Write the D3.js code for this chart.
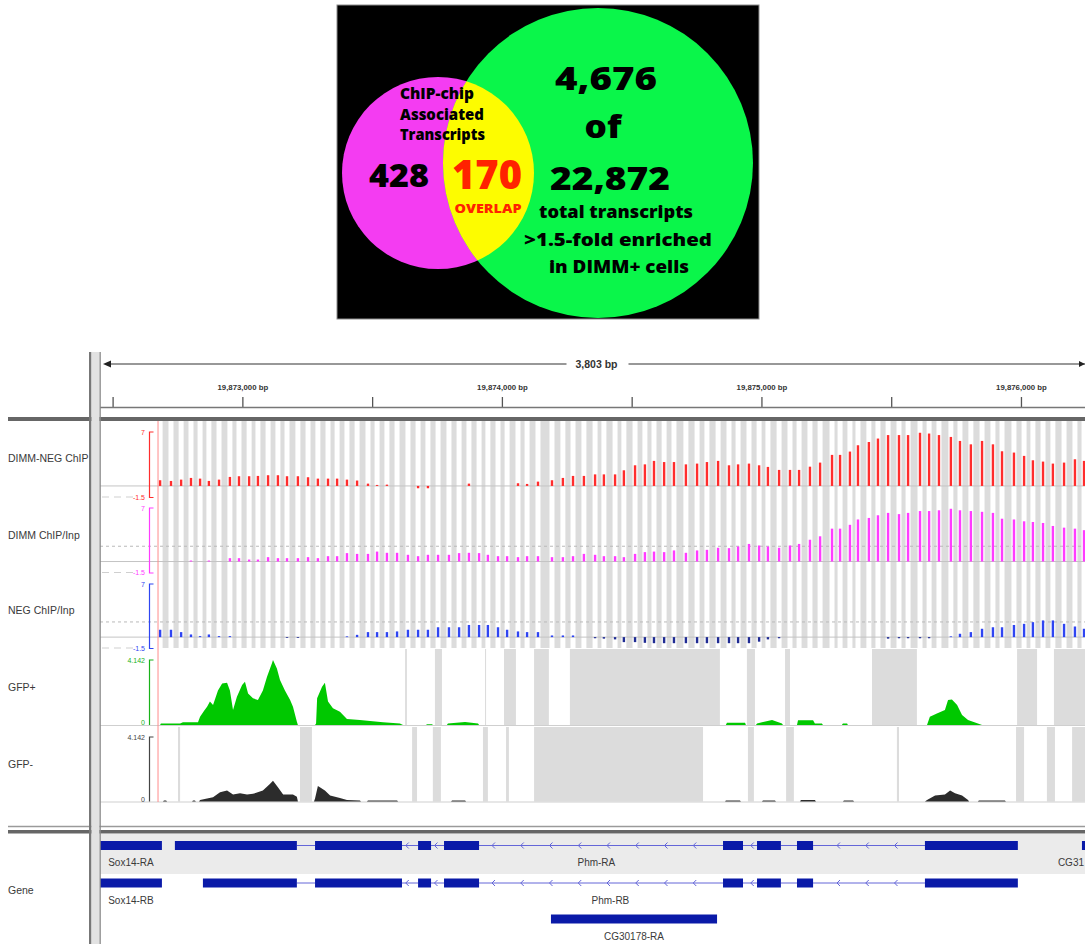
<!DOCTYPE html>
<html>
<head>
<meta charset="utf-8">
<script src="https://cdn.jsdelivr.net/npm/d3@7"></script>
<style>
  html, body { margin: 0; padding: 0; background: #fff; }
  svg { display: block; }
</style>
</head>
<body>
<svg id="chart" width="1085" height="944"></svg>
<script>
// ---------------- Venn counts ----------------
const chipOnlyCount = 428;
const overlapCount = 170;
const enrichedCount = 4676;
const totalTranscripts = 22872;
const foldThreshold = 1.5;

// ---------------- Genome browser view ----------------
const viewStart = 19872463;
const viewEnd = 19876266;
const rulerTicks = [19872500, 19873000, 19873500, 19874000, 19874500, 19875000, 19875500, 19876000];
const markerPos = 19872675;

// tiling-array probe centres (bp)
const probePositions = [
  19872683, 19872725, 19872764, 19872802, 19872837, 19872871, 19872910, 19872952, 19872987, 19873026,
  19873060, 19873099, 19873137, 19873172, 19873214, 19873253, 19873291, 19873330, 19873365, 19873403,
  19873442, 19873484, 19873519, 19873557, 19873596, 19873638, 19873677, 19873715, 19873754, 19873796,
  19873835, 19873873, 19873912, 19873946, 19873985, 19874020, 19874062, 19874097, 19874139, 19874193,
  19874235, 19874274, 19874316, 19874359, 19874393, 19874436, 19874470, 19874513, 19874551, 19874586,
  19874625, 19874663, 19874709, 19874752, 19874790, 19874833, 19874875, 19874910, 19874952, 19874991,
  19875025, 19875068, 19875110, 19875145, 19875187, 19875226, 19875272, 19875303, 19875341, 19875372,
  19875414, 19875449, 19875488, 19875530, 19875565, 19875611, 19875646, 19875684, 19875730, 19875765,
  19875807, 19875850, 19875892, 19875927, 19875973, 19876012, 19876046, 19876085, 19876123, 19876166,
  19876208, 19876243
];
const chipRange = [-1.5, 7];
const dimmNegChip = [
  0.74, 0.65, 0.82, 1.04, 0.95, 0.65, 0.82, 1.17, 1.26, 1.26,
  1.30, 1.39, 1.39, 1.26, 1.26, 1.13, 0.95, 0.95, 0.95, 0.82,
  0.70, 0.30, 0.13, 0.17, 0, 0, -0.30, -0.30, 0, 0,
  0, 0.30, 0, 0, 0, 0, 0.35, 0.26, 0.56, 0.74,
  1.04, 1.30, 1.30, 1.50, 1.50, 1.50, 2.03, 2.68, 2.80, 3.25,
  3.10, 3.10, 2.80, 2.90, 3.10, 3.25, 2.68, 2.80, 2.90, 2.68,
  2.47, 2.08, 2.08, 2.08, 2.50, 3.03, 4.03, 4.03, 4.46, 5.28,
  5.70, 6.15, 6.60, 6.60, 6.60, 6.90, 6.80, 6.60, 6.36, 5.84,
  5.40, 5.84, 5.40, 4.50, 4.33, 3.90, 3.33, 3.16, 2.90, 3.03,
  3.46, 3.25
];
const dimmChipInp = [
  0, 0, 0, 0.13, 0, 0.13, 0, 0.44, 0.44, 0.26,
  0.26, 0.57, 0.44, 0.44, 0.44, 0.57, 0.44, 0.70, 0.70, 1.10,
  1.00, 1.00, 1.30, 1.14, 1.14, 0.88, 0.70, 0.88, 0.88, 0.88,
  1.10, 1.14, 1.10, 0.88, 0.70, 0.70, 0.57, 0.70, 0.70, 0.57,
  0.57, 0.70, 1.00, 0.88, 0.70, 0.70, 0.57, 1.00, 1.23, 1.30,
  1.23, 1.45, 1.14, 1.45, 1.53, 1.80, 1.75, 1.97, 2.30, 2.10,
  1.97, 1.80, 2.10, 2.30, 2.85, 3.30, 4.30, 4.30, 4.80, 5.50,
  5.70, 6.05, 6.36, 6.20, 6.36, 6.60, 6.60, 6.70, 6.90, 6.70,
  6.60, 6.50, 6.36, 5.60, 5.50, 5.26, 5.17, 5.04, 4.65, 4.43,
  4.30, 4.10
];
const negChipInp = [
  0.97, 0.97, 0.66, 0.35, 0.13, 0.35, 0.13, 0.13, 0, 0,
  0, 0, 0, -0.10, -0.10, 0, 0, 0, 0, 0.10,
  0.30, 0.66, 0.66, 0.66, 0.75, 0.97, 0.97, 0.97, 1.30, 1.30,
  1.30, 1.60, 1.60, 1.60, 1.30, 0.97, 0.75, 0.66, 0.66, 0.22,
  0.22, 0.22, 0, -0.15, -0.20, -0.30, -0.66, -0.66, -0.75, -0.80,
  -0.80, -0.80, -0.80, -0.80, -0.80, -0.80, -0.80, -0.80, -0.80, -0.60,
  -0.30, -0.15, 0, 0, 0, 0, 0, 0, 0, 0,
  0, 0, -0.20, -0.15, -0.15, -0.15, -0.15, 0, 0.10, 0.44,
  0.66, 1.10, 1.30, 1.30, 1.60, 1.75, 1.97, 2.20, 2.20, 1.75,
  1.40, 1.10
];

// RNA coverage (bp, depth)
const coverageMax = 4.142;
const gfpPlusPos = [
  19872683, 19872686, 19872760, 19872771, 19872829, 19872837, 19872852, 19872864, 19872875, 19872887,
  19872906, 19872922, 19872941, 19872952, 19872964, 19872979, 19872999, 19873010, 19873022, 19873041,
  19873060, 19873079, 19873095, 19873114, 19873118, 19873133, 19873145, 19873164, 19873184, 19873195,
  19873210, 19873214, 19873280, 19873284, 19873288, 19873307, 19873318, 19873330, 19873349, 19873376,
  19873403, 19873453, 19873492, 19873542, 19873607, 19873619, 19873708, 19873711, 19873731, 19873734,
  19873788, 19873792, 19873858, 19873908, 19873912, 19874863, 19874867, 19874937, 19874940, 19874979,
  19874983, 19875041, 19875079, 19875083, 19875137, 19875141, 19875199, 19875206, 19875233, 19875237,
  19875310, 19875314, 19875330, 19875333, 19875638, 19875649, 19875676, 19875707, 19875719, 19875734,
  19875754, 19875773, 19875796, 19875834, 19875850
];
const gfpPlusCov = [
  0, 0.10, 0.10, 0.17, 0.17, 0.53, 0.90, 1.17, 1.50, 1.27,
  2.20, 2.65, 2.70, 2.20, 0.95, 1.80, 2.55, 2.76, 2.00, 1.70,
  1.60, 2.20, 3.07, 3.93, 4.14, 3.60, 2.87, 2.20, 1.60, 1.17,
  0.20, 0, 0, 0.10, 1.70, 2.44, 2.70, 1.50, 1.06, 0.85,
  0.38, 0.32, 0.25, 0.17, 0.10, 0, 0, 0.05, 0.05, 0,
  0, 0.10, 0.19, 0.10, 0, 0, 0.15, 0.15, 0, 0,
  0.10, 0.32, 0.10, 0, 0, 0.30, 0.30, 0.10, 0.10, 0,
  0, 0.10, 0.10, 0, 0, 0.53, 0.74, 0.95, 1.60, 1.63,
  1.27, 0.64, 0.32, 0.10, 0
];
const gfpMinusPos = [
  19872694, 19872698, 19872706, 19872710, 19872806, 19872810, 19872817, 19872821, 19872833, 19872837,
  19872864, 19872887, 19872914, 19872941, 19872964, 19872991, 19873018, 19873041, 19873079, 19873106,
  19873118, 19873137, 19873157, 19873195, 19873210, 19873214, 19873276, 19873280, 19873291, 19873318,
  19873338, 19873376, 19873403, 19873453, 19873457, 19873480, 19873484, 19873596, 19873600, 19873804,
  19873808, 19873858, 19873862, 19874860, 19874863, 19874917, 19874921, 19875002, 19875006, 19875052,
  19875056, 19875149, 19875152, 19875206, 19875210, 19875314, 19875318, 19875353, 19875357, 19875630,
  19875638, 19875669, 19875707, 19875727, 19875746, 19875773, 19875796, 19875800, 19875834, 19875838,
  19875938, 19875942
];
const gfpMinusCov = [
  0, 0.06, 0.06, 0, 0, 0.06, 0.06, 0, 0, 0.10,
  0.20, 0.28, 0.60, 0.70, 0.45, 0.53, 0.45, 0.49, 0.70, 1.13,
  1.34, 0.91, 0.45, 0.45, 0.30, 0, 0, 0.20, 1.00, 0.70,
  0.38, 0.23, 0.10, 0.06, 0, 0, 0.06, 0.06, 0, 0,
  0.06, 0.06, 0, 0, 0.06, 0.06, 0, 0, 0.06, 0.06,
  0, 0, 0.10, 0.10, 0, 0, 0.06, 0.06, 0, 0,
  0.10, 0.38, 0.45, 0.70, 0.53, 0.38, 0.10, 0, 0, 0.06,
  0.06, 0
];
// intervals without coverage data
const gfpPlusNoData = [
  [19873627, 19873634], [19873742, 19873769], [19873935, 19873939], [19874008, 19874054],
  [19874124, 19874181], [19874262, 19874840], [19874944, 19874975], [19875091, 19875110],
  [19875426, 19875599], [19875985, 19876062], [19876127, 19876266]
];
const gfpMinusNoData = [
  [19872752, 19872760], [19873222, 19873268], [19873654, 19873673], [19873734, 19873765],
  [19873927, 19873946], [19874016, 19874027], [19874124, 19874775], [19874948, 19874971],
  [19875095, 19875125], [19875522, 19875530], [19875981, 19876012], [19876100, 19876131],
  [19876197, 19876266]
];

// gene models (exon intervals, bp)
const sox14Exons = [[19872440, 19872690]];
const phmRAExons = [
  [19872740, 19873210], [19873280, 19873615], [19873677, 19873727], [19873777, 19873912],
  [19874852, 19874929], [19874983, 19875075], [19875137, 19875199], [19875630, 19875988]
];
const phmRBExons = [
  [19872848, 19873210], [19873280, 19873615], [19873677, 19873727], [19873777, 19873912],
  [19874852, 19874929], [19874983, 19875075], [19875137, 19875199], [19875630, 19875988]
];
const cg30178Exons = [[19874189, 19874829]];
const cg31Exons = [[19876235, 19876420]];

// ---------------- drawing ----------------
const svg = d3.select("#chart");
const UI_FONT = "'Liberation Sans', Arial, Helvetica, sans-serif";
const VENN_FONT = "'Open Sans', 'Noto Sans', sans-serif";
const fmt = d3.format(",");
const defs = svg.append("defs");

// ===== Venn diagram =====
const venn = svg.append("g");
venn.append("rect").attr("x", 337).attr("y", 5).attr("width", 422).attr("height", 314)
  .attr("fill", "#000").attr("stroke", "#8c8c8c").attr("stroke-width", 1);
const chipCircle = { cx: 438, cy: 173, r: 96 };
const rnaCircle = { cx: 598, cy: 163, r: 155 };
defs.append("clipPath").attr("id", "chipClip").append("circle")
  .attr("cx", chipCircle.cx).attr("cy", chipCircle.cy).attr("r", chipCircle.r);
venn.append("circle").attr("cx", chipCircle.cx).attr("cy", chipCircle.cy).attr("r", chipCircle.r).attr("fill", "#f43cf2");
venn.append("circle").attr("cx", rnaCircle.cx).attr("cy", rnaCircle.cy).attr("r", rnaCircle.r).attr("fill", "#0af64a");
venn.append("circle").attr("cx", rnaCircle.cx).attr("cy", rnaCircle.cy).attr("r", rnaCircle.r)
  .attr("fill", "#fdfc00").attr("clip-path", "url(#chipClip)");

function vennText(str, xPos, y, size, len, fill, anchor) {
  venn.append("text").attr("x", xPos).attr("y", y)
    .attr("text-anchor", anchor || "middle")
    .attr("font-family", VENN_FONT).attr("font-weight", 800)
    .attr("font-size", size).attr("fill", fill || "#000")
    .attr("textLength", len).attr("lengthAdjust", "spacingAndGlyphs")
    .text(str);
}
vennText("ChIP-chip", 400, 99, 16, 74, "#000", "start");
vennText("Associated", 400, 120, 16, 84, "#000", "start");
vennText("Transcripts", 400, 140, 16, 85, "#000", "start");
vennText(fmt(chipOnlyCount), 399, 187, 31, 60);
vennText(fmt(overlapCount), 487, 189, 41, 70, "#ff2200");
vennText("OVERLAP", 488, 213, 12.5, 67, "#ff2200");
vennText(fmt(enrichedCount), 606, 90, 32, 102);
vennText("of", 603, 138, 32, 37);
vennText(fmt(totalTranscripts), 610, 190, 32, 120);
vennText("total transcripts", 616, 218, 18, 154);
vennText(">" + foldThreshold + "-fold enriched", 618, 246, 18, 188);
vennText("in DIMM+ cells", 619, 273, 18, 140);

// ===== Genome browser =====
const x = d3.scaleLinear().domain([viewStart, viewEnd]).range([103, 1090]);
const panelLeft = 100, panelRight = 1085;

defs.append("clipPath").attr("id", "dataClip").append("rect")
  .attr("x", panelLeft).attr("y", 421).attr("width", panelRight - panelLeft).attr("height", 404);
defs.append("clipPath").attr("id", "geneClip").append("rect")
  .attr("x", panelLeft).attr("y", 834).attr("width", panelRight - panelLeft).attr("height", 110);

// --- ruler ---
const ruler = svg.append("g");
const spanMid = (x(viewStart) + x(viewEnd)) / 2;
ruler.append("line").attr("x1", x(viewStart) + 6).attr("x2", spanMid - 30).attr("y1", 364).attr("y2", 364)
  .attr("stroke", "#333").attr("stroke-width", 1.2);
ruler.append("path").attr("d", `M${x(viewStart)},364 l8,-3.5 l0,7 Z`).attr("fill", "#222");
ruler.append("line").attr("x1", spanMid + 32).attr("x2", panelRight).attr("y1", 364).attr("y2", 364)
  .attr("stroke", "#333").attr("stroke-width", 1.2);
ruler.append("path").attr("d", `M${panelRight},364 l-6,-3 l0,6 Z`).attr("fill", "#222");
ruler.append("text").attr("x", spanMid).attr("y", 368).attr("text-anchor", "middle")
  .attr("font-family", UI_FONT).attr("font-weight", 700).attr("font-size", 10.5).attr("fill", "#333")
  .text(fmt(viewEnd - viewStart) + " bp");

const rulerAxis = ruler.append("g").attr("transform", "translate(0,407)")
  .call(d3.axisTop(x).tickValues(rulerTicks).tickSize(10).tickPadding(7)
    .tickFormat(d => d % 1000 === 0 ? fmt(d) + " bp" : ""));
rulerAxis.select(".domain").remove();
rulerAxis.selectAll(".tick line").attr("stroke", "#555").attr("stroke-width", 1.3);
rulerAxis.selectAll(".tick text").attr("font-family", UI_FONT).attr("font-weight", 700)
  .attr("font-size", 7.8).attr("fill", "#333");
ruler.append("line").attr("x1", panelLeft).attr("x2", panelRight).attr("y1", 407.5).attr("y2", 407.5)
  .attr("stroke", "#777").attr("stroke-width", 1.5);

// --- data panel ---
const data = svg.append("g").attr("clip-path", "url(#dataClip)");
const px = probePositions.map(p => x(p));

// probe spacing stripes behind the ChIP tracks
const stripeHalf = 2.5;
const stripeEdges = px.map((p, i) => [p + stripeHalf, i < px.length - 1 ? px[i + 1] - stripeHalf : panelRight]);
data.append("g").selectAll("rect").data(stripeEdges).join("rect")
  .attr("x", d => d[0]).attr("width", d => Math.max(0, d[1] - d[0]))
  .attr("y", 421).attr("height", 227).attr("fill", "#dcdcdc");

const chipTracks = [
  { name: "DIMM-NEG ChIP", values: dimmNegChip, pos: "#ff2d2d", neg: "#ff2d2d", range: [497.5, 432], labelY: 462, ref: null },
  { name: "DIMM ChIP/Inp", values: dimmChipInp, pos: "#ff3cff", neg: "#ff3cff", range: [573, 508], labelY: 539, ref: 2 },
  { name: "NEG ChIP/Inp", values: negChipInp, pos: "#2f45f2", neg: "#1f2b93", range: [648.5, 584], labelY: 614, ref: 2 }
];

const axes = svg.append("g");
const labels = svg.append("g").attr("font-family", UI_FONT).attr("font-size", 10.5).attr("fill", "#3a3a3a");

chipTracks.forEach(t => {
  const y = d3.scaleLinear().domain(chipRange).range(t.range);
  const y0 = y(0);
  data.append("line").attr("x1", panelLeft).attr("x2", panelRight).attr("y1", y0).attr("y2", y0)
    .attr("stroke", "#c4c4c4").attr("stroke-width", 1);
  if (t.ref !== null) {
    data.append("line").attr("x1", panelLeft).attr("x2", panelRight).attr("y1", y(t.ref)).attr("y2", y(t.ref))
      .attr("stroke", "#b9b9b9").attr("stroke-width", 1).attr("stroke-dasharray", "3,3");
  }
  data.append("line").attr("x1", 102).attr("x2", 133).attr("y1", y(chipRange[0]) - 0.5).attr("y2", y(chipRange[0]) - 0.5)
    .attr("stroke", "#cfcfcf").attr("stroke-width", 1).attr("stroke-dasharray", "7,5");
  data.append("g").selectAll("rect").data(t.values).join("rect")
    .attr("x", (d, i) => px[i] - 1.2).attr("width", 2.4)
    .attr("y", d => Math.min(y(d), y0)).attr("height", d => Math.abs(y(d) - y0))
    .attr("fill", d => d < 0 ? t.neg : t.pos);
  // data-range bracket
  const top = y(chipRange[1]), bot = y(chipRange[0]);
  axes.append("path").attr("d", `M153.5,${top} H149.5 V${bot} H153.5`)
    .attr("fill", "none").attr("stroke", t.pos).attr("stroke-width", 1.2);
  axes.append("text").attr("x", 145).attr("y", top + 3).attr("text-anchor", "end")
    .attr("font-family", UI_FONT).attr("font-size", 7).attr("fill", t.pos).text(chipRange[1]);
  axes.append("text").attr("x", 145).attr("y", bot + 2).attr("text-anchor", "end")
    .attr("font-family", UI_FONT).attr("font-size", 7).attr("fill", t.pos).text(chipRange[0]);
  labels.append("text").attr("x", 8).attr("y", t.labelY).text(t.name);
});

const covTracks = [
  { name: "GFP+", pos: gfpPlusPos, cov: gfpPlusCov, noData: gfpPlusNoData, fill: "#00c800", axis: "#19b219", range: [725, 660], band: [649, 725], labelY: 691 },
  { name: "GFP-", pos: gfpMinusPos, cov: gfpMinusCov, noData: gfpMinusNoData, fill: "#2c2c2c", axis: "#444", range: [801.5, 737], band: [727, 801.5], labelY: 768 }
];
covTracks.forEach(t => {
  const y = d3.scaleLinear().domain([0, coverageMax]).range(t.range);
  data.append("g").selectAll("rect").data(t.noData).join("rect")
    .attr("x", d => x(d[0])).attr("width", d => x(d[1]) - x(d[0]))
    .attr("y", t.band[0]).attr("height", t.band[1] - t.band[0]).attr("fill", "#dcdcdc");
  data.append("line").attr("x1", panelLeft).attr("x2", panelRight).attr("y1", y(0) + 0.5).attr("y2", y(0) + 0.5)
    .attr("stroke", "#cfcfcf").attr("stroke-width", 1.2);
  const pts = t.pos.map((p, i) => [p, t.cov[i]]);
  data.append("path").datum(pts)
    .attr("d", d3.area().x(d => x(d[0])).y0(y(0)).y1(d => y(d[1])))
    .attr("fill", t.fill);
  const top = y(coverageMax), bot = y(0);
  axes.append("path").attr("d", `M153.5,${top} H149.5 V${bot}`)
    .attr("fill", "none").attr("stroke", t.axis).attr("stroke-width", 1.2);
  axes.append("text").attr("x", 145).attr("y", top + 3).attr("text-anchor", "end")
    .attr("font-family", UI_FONT).attr("font-size", 7).attr("fill", t.axis).text(d3.format(".3f")(coverageMax));
  axes.append("text").attr("x", 145).attr("y", bot).attr("text-anchor", "end")
    .attr("font-family", UI_FONT).attr("font-size", 7).attr("fill", t.axis).text(0);
  labels.append("text").attr("x", 8).attr("y", t.labelY).text(t.name);
});

// position marker
data.append("line").attr("x1", x(markerPos)).attr("x2", x(markerPos)).attr("y1", 421).attr("y2", 802)
  .attr("stroke", "#ff8c8c").attr("stroke-width", 1);

// --- gene track ---
const genes = svg.append("g").attr("clip-path", "url(#geneClip)");
genes.append("rect").attr("x", panelLeft).attr("y", 834).attr("width", panelRight - panelLeft).attr("height", 40)
  .attr("fill", "#ebebeb");
const transcripts = [
  { name: "Sox14-RA", exons: sox14Exons, cy: 845.5, ly: 866 },
  { name: "Phm-RA", exons: phmRAExons, cy: 845.5, ly: 866 },
  { name: "CG31", exons: cg31Exons, cy: 845.5, ly: 866 },
  { name: "Sox14-RB", exons: sox14Exons, cy: 883, ly: 904 },
  { name: "Phm-RB", exons: phmRBExons, cy: 883, ly: 904 },
  { name: "CG30178-RA", exons: cg30178Exons, cy: 919, ly: 940 }
];
const exonColor = "#0a1aa8", intronColor = "#6466d8";
const arrowStep = 28.75, arrowPhase = 4.25;
transcripts.forEach(t => {
  const g = genes.append("g");
  for (let i = 0; i < t.exons.length - 1; i++) {
    const a = x(t.exons[i][1]), b = x(t.exons[i + 1][0]);
    g.append("line").attr("x1", a).attr("x2", b).attr("y1", t.cy).attr("y2", t.cy)
      .attr("stroke", intronColor).attr("stroke-width", 1);
    for (let k = Math.ceil((a - arrowPhase) / arrowStep); ; k++) {
      const ax = arrowPhase + k * arrowStep;
      if (ax > b - 3) break;
      if (ax < a + 3) continue;
      g.append("path").attr("d", `M${ax + 2},${t.cy - 3} L${ax - 1},${t.cy} L${ax + 2},${t.cy + 3}`)
        .attr("fill", "none").attr("stroke", intronColor).attr("stroke-width", 1);
    }
  }
  g.selectAll("rect.exon").data(t.exons).join("rect").attr("class", "exon")
    .attr("x", d => x(d[0])).attr("width", d => x(d[1]) - x(d[0]))
    .attr("y", t.cy - 4.5).attr("height", 9).attr("fill", exonColor);
  const lo = Math.max(x(t.exons[0][0]), panelLeft);
  const hi = Math.min(x(t.exons[t.exons.length - 1][1]), panelRight);
  const runsOff = x(t.exons[t.exons.length - 1][1]) > panelRight;
  g.append("text").attr("x", runsOff ? panelRight - 1 : (lo + hi) / 2).attr("y", t.ly)
    .attr("text-anchor", runsOff ? "end" : "middle")
    .attr("font-family", UI_FONT).attr("font-size", 10).attr("fill", "#3a3a3a").text(t.name);
});
labels.append("text").attr("x", 8).attr("y", 894).text("Gene");

// --- panel frame ---
const frame = svg.append("g");
frame.append("rect").attr("x", 8).attr("y", 417).attr("width", 1077).attr("height", 4).attr("fill", "#666");
frame.append("line").attr("x1", 8).attr("x2", 1085).attr("y1", 826.5).attr("y2", 826.5)
  .attr("stroke", "#9a9a9a").attr("stroke-width", 1.5);
frame.append("rect").attr("x", 8).attr("y", 830).attr("width", 1077).attr("height", 3.5).attr("fill", "#666");
frame.append("rect").attr("x", 89).attr("y", 352).attr("width", 2.5).attr("height", 592).attr("fill", "#777");
frame.append("rect").attr("x", 91.5).attr("y", 352).attr("width", 8).attr("height", 592).attr("fill", "#e2e2e2");
frame.append("rect").attr("x", 99.5).attr("y", 352).attr("width", 1.3).attr("height", 592).attr("fill", "#888");
</script>
</body>
</html>
